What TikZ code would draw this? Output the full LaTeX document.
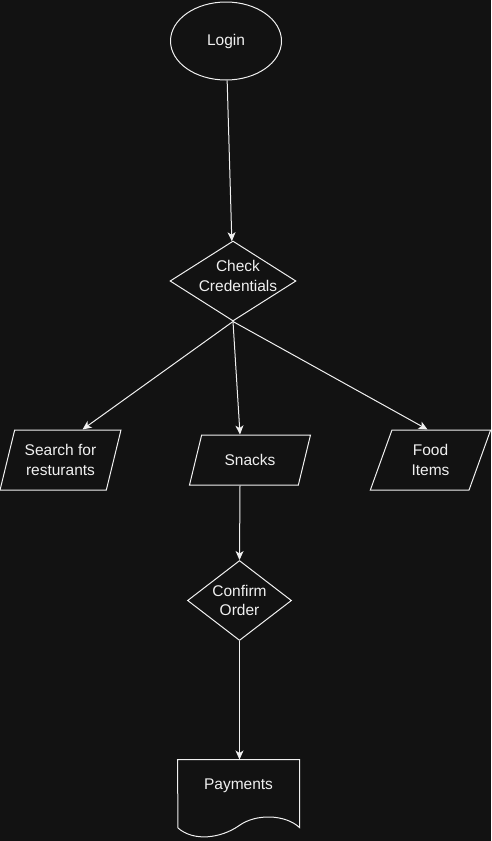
\documentclass[tikz,border=0pt]{standalone}
\usepackage{fontspec}
\setmainfont{Liberation Sans}
\usetikzlibrary{shapes.geometric,arrows.meta}
\definecolor{bgcol}{RGB}{18,18,18}
\definecolor{fgcol}{RGB}{240,240,240}
\tikzstyle{startstop} = [ellipse, minimum width = 111pt, minimum height = 78pt, text centered, draw = fgcol]
\tikzstyle{io} = [trapezium, trapezium stretches = true, trapezium left angle = 71.6, trapezium right angle = 108.4, minimum width = 121pt, minimum height = 60pt, text centered, align = center, draw = fgcol]
\tikzstyle{decision} = [diamond, inner sep = 0pt, draw = fgcol]
\tikzstyle{doc} = [rectangle, minimum width = 121pt, minimum height = 52pt, text centered]
\tikzstyle{txt} = [align = center, text = fgcol]
\tikzstyle{arrow} = [draw = fgcol, -{Stealth[length = 9pt, width = 8pt, inset = 2.5pt]}]

\begin{document}
\begin{tikzpicture}[x = 1pt, y = -1pt, line width = 1pt,
        every node/.style = {font = \fontsize{15.5pt}{19.5pt}\selectfont, text = fgcol}]

        	\fill[bgcol] (0,0) rectangle (491,841);
        	\useasboundingbox (0,0) rectangle (491,841);

        	\node[startstop](login) at (226,41){Login};
        	\node[decision, minimum width = 126pt, minimum height = 80pt,
        	      label = {[txt, xshift = 5pt, yshift = 5pt]center:Check\\Credentials}](check) at (233,281){};
        	\node[io](search) at (60.5,460){Search for\\resturants};
        	\node[io, minimum height = 50pt, trapezium left angle = 68.2, trapezium right angle = 111.8](snacks) at (250,460){Snacks};
        	\node[io](food) at (430.5,460){Food\\Items};
        	\node[decision, minimum width = 104pt, minimum height = 80pt,
        	      label = {[txt]center:Confirm\\Order}](confirm) at (239.5,600.5){};
        	\node[doc](pay) at (238.5,786){Payments};

        	% document outline with wavy bottom
        	\draw[fgcol] (pay.north west) -- (pay.north east) -- ++(0,68)
        	    .. controls ++(-14,-13) and (256,813) .. (238.5,826)
        	    .. controls (221,838) and (194,842) .. (178,828) -- cycle;

        	\draw [arrow](login)--(check);
			\draw [arrow](check.south)--([xshift = 22pt]search.north);
			\draw [arrow](check.south)--([xshift = -10pt]snacks.north);
			\draw [arrow](check.south)--([xshift = -3pt]food.north);
			\draw [arrow]([xshift = -10pt]snacks.south)--(confirm.north);
			\draw [arrow](confirm.south)--(confirm.south |- pay.north);

\end{tikzpicture}
\end{document}
